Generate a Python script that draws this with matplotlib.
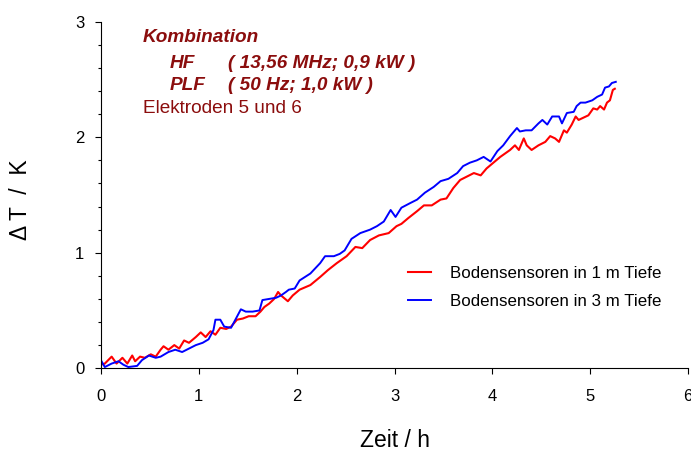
import numpy as np
import matplotlib
matplotlib.use("Agg")
import matplotlib.pyplot as plt
from matplotlib.ticker import MultipleLocator

plt.rcParams['font.family'] = ['Liberation Sans', 'DejaVu Sans']

# values (time in h, delta T in K)
zeit_1m = [0.00, 0.04, 0.11, 0.16, 0.22, 0.27, 0.32, 0.35, 0.40, 0.45, 0.51, 0.56,
           0.61, 0.64, 0.69, 0.75, 0.80, 0.85, 0.90, 0.97, 1.02, 1.07, 1.12, 1.17,
           1.22, 1.28, 1.33, 1.39, 1.45, 1.51, 1.58, 1.63, 1.67, 1.72, 1.77, 1.81,
           1.84, 1.91, 1.96, 2.03, 2.14, 2.24, 2.32, 2.41, 2.51, 2.60, 2.67, 2.75,
           2.84, 2.94, 3.02, 3.07, 3.14, 3.23, 3.30, 3.38, 3.47, 3.53, 3.60, 3.67,
           3.74, 3.81, 3.88, 3.94, 4.01, 4.08, 4.13, 4.18, 4.23, 4.27, 4.32, 4.35,
           4.40, 4.47, 4.54, 4.59, 4.64, 4.68, 4.73, 4.76, 4.81, 4.85, 4.88, 4.93,
           4.98, 5.03, 5.07, 5.10, 5.14, 5.17, 5.20, 5.23, 5.25]
dt_1m = [0.03, 0.04, 0.10, 0.04, 0.09, 0.04, 0.11, 0.06, 0.10, 0.09, 0.12, 0.10,
         0.16, 0.19, 0.16, 0.20, 0.17, 0.24, 0.22, 0.27, 0.31, 0.27, 0.32, 0.29,
         0.35, 0.34, 0.36, 0.42, 0.43, 0.45, 0.45, 0.49, 0.53, 0.56, 0.60, 0.66,
         0.63, 0.58, 0.63, 0.68, 0.72, 0.79, 0.85, 0.91, 0.97, 1.05, 1.04, 1.11,
         1.15, 1.17, 1.23, 1.25, 1.30, 1.36, 1.41, 1.41, 1.46, 1.47, 1.56, 1.63,
         1.66, 1.69, 1.67, 1.73, 1.78, 1.83, 1.86, 1.89, 1.93, 1.89, 1.99, 1.93,
         1.89, 1.93, 1.96, 2.01, 1.99, 1.96, 2.06, 2.04, 2.11, 2.18, 2.15, 2.17,
         2.19, 2.25, 2.24, 2.27, 2.24, 2.30, 2.32, 2.41, 2.42]

zeit_3m = [0.00, 0.04, 0.11, 0.18, 0.23, 0.28, 0.37, 0.42, 0.49, 0.56, 0.61, 0.69,
           0.76, 0.83, 0.90, 0.97, 1.04, 1.10, 1.15, 1.17, 1.22, 1.26, 1.33, 1.38,
           1.43, 1.48, 1.55, 1.62, 1.65, 1.72, 1.79, 1.84, 1.89, 1.92, 1.98, 2.03,
           2.14, 2.24, 2.29, 2.38, 2.44, 2.49, 2.56, 2.65, 2.75, 2.82, 2.89, 2.96,
           3.01, 3.07, 3.16, 3.23, 3.31, 3.40, 3.47, 3.55, 3.64, 3.70, 3.77, 3.84,
           3.91, 3.98, 4.05, 4.11, 4.18, 4.25, 4.28, 4.34, 4.40, 4.47, 4.51, 4.56,
           4.61, 4.68, 4.71, 4.76, 4.83, 4.86, 4.90, 4.95, 5.02, 5.07, 5.12, 5.15,
           5.19, 5.22, 5.26]
dt_3m = [0.07, 0.01, 0.04, 0.06, 0.03, 0.01, 0.02, 0.07, 0.11, 0.09, 0.10, 0.14,
         0.16, 0.14, 0.17, 0.20, 0.22, 0.25, 0.33, 0.42, 0.42, 0.36, 0.35, 0.43,
         0.51, 0.49, 0.49, 0.50, 0.59, 0.60, 0.61, 0.63, 0.66, 0.68, 0.69, 0.76,
         0.82, 0.91, 0.97, 0.97, 0.99, 1.02, 1.12, 1.17, 1.20, 1.23, 1.27, 1.37,
         1.31, 1.39, 1.43, 1.46, 1.52, 1.57, 1.62, 1.64, 1.69, 1.75, 1.78, 1.80,
         1.83, 1.79, 1.88, 1.93, 2.01, 2.08, 2.05, 2.06, 2.06, 2.12, 2.15, 2.11,
         2.18, 2.18, 2.12, 2.21, 2.22, 2.27, 2.30, 2.30, 2.32, 2.35, 2.37, 2.43,
         2.44, 2.47, 2.48]

labels = ["Bodensensoren in 1 m Tiefe", "Bodensensoren in 3 m Tiefe"]
dark_red = "#8b0d0d"

fig = plt.figure(figsize=(6.91, 4.54), dpi=100)
ax = fig.add_axes([0.146, 0.189, 0.850, 0.763])

ax.plot(zeit_1m, dt_1m, color="#ff0000", lw=1.5, label=labels[0])
ax.plot(zeit_3m, dt_3m, color="#0000ff", lw=1.4, label=labels[1])

ax.set_xlim(0, 6)
ax.set_ylim(0, 3)
ax.xaxis.set_major_locator(MultipleLocator(1))
ax.yaxis.set_major_locator(MultipleLocator(1))
ax.yaxis.set_minor_locator(MultipleLocator(0.2))
for s in ("top", "right"):
    ax.spines[s].set_visible(False)
ax.tick_params(which="major", direction="out", length=4, width=0.8, labelsize=12)
ax.tick_params(axis="y", which="major", pad=8)
ax.tick_params(axis="x", which="major", pad=11)
ax.tick_params(which="minor", direction="out", length=2.5, width=0.8)

ax.set_xlabel("Zeit / h", fontsize=16.5, labelpad=18)
ax.set_ylabel("\u0394 T  /  K", fontsize=16.5)
ax.yaxis.set_label_coords(-0.118, 0.486)

ax.legend(loc="center left", bbox_to_anchor=(0.497, 0.233), frameon=False, fontsize=12.2,
          handlelength=1.35, handletextpad=1.1, labelspacing=0.72)

# annotation block
fs = 13.7
ax.text(0.0716, 0.956, "Kombination", transform=ax.transAxes, color=dark_red,
        fontsize=fs, fontweight="bold", style="italic", va="center")
ax.text(0.1175, 0.881, "HF", transform=ax.transAxes, color=dark_red,
        fontsize=fs, fontweight="bold", style="italic", va="center")
ax.text(0.216, 0.881, "( 13,56 MHz; 0,9 kW )", transform=ax.transAxes, color=dark_red,
        fontsize=fs, fontweight="bold", style="italic", va="center")
ax.text(0.1175, 0.815, "PLF", transform=ax.transAxes, color=dark_red,
        fontsize=fs, fontweight="bold", style="italic", va="center")
ax.text(0.216, 0.815, "( 50 Hz; 1,0 kW )", transform=ax.transAxes, color=dark_red,
        fontsize=fs, fontweight="bold", style="italic", va="center")
ax.text(0.0716, 0.751, "Elektroden 5 und 6", transform=ax.transAxes, color=dark_red,
        fontsize=fs, va="center")

fig.savefig("out.png", dpi=100)
